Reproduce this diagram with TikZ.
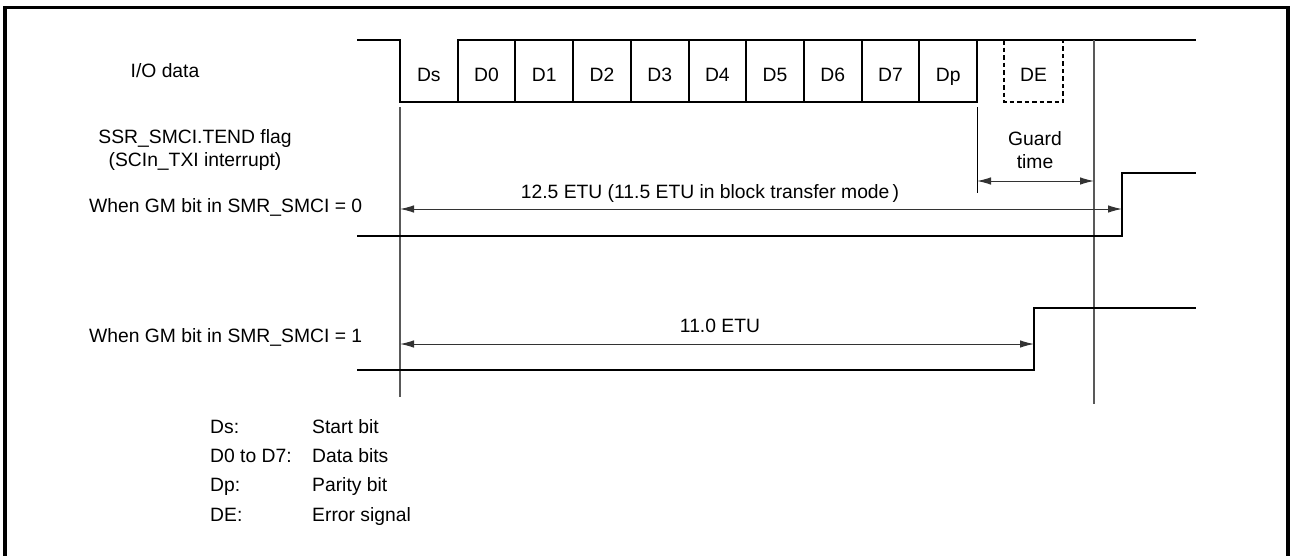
\documentclass[tikz,border=0pt]{standalone}
\usepackage{fontspec}
\setmainfont{Liberation Sans}
\usetikzlibrary{arrows.meta}
\begin{document}
\begin{tikzpicture}[x=1pt,y=-1pt,
  sig/.style={line width=2pt,line join=miter},
  guide/.style={line width=1.5pt,draw=black!65},
  dim/.style={line width=1pt,draw=black!80,{Latex[length=14pt,width=7.5pt]}-{Latex[length=14pt,width=7.5pt]}},
  lbl/.style={font=\fontsize{19.3pt}{23pt}\selectfont,inner sep=0pt,anchor=base},
  lbll/.style={lbl,anchor=base west},
  frame/.style={line width=3.5pt}]
\useasboundingbox (0,0) rectangle (1290,555);
% frame
\draw[frame] (5,570) -- (5,7.5) -- (1288,7.5) -- (1288,570);
% I/O data signal
\draw[sig] (357,40) -- (400,40) -- (400,102) -- (977,102) -- (977,40);
\draw[sig] (457,40) -- (1196,40);
\foreach \i in {1,...,9}{
  \draw[sig] ({400+57.7*\i},40) -- ({400+57.7*\i},102);
}
\draw[sig,dash pattern=on 4.5pt off 3pt] (1004,40) -- (1004,102) -- (1063,102) -- (1063,40);
% bit labels
\foreach \t [count=\i from 0] in {Ds,D0,D1,D2,D3,D4,D5,D6,D7,Dp}{
  \node[lbl] (b\i) at ({400+57.7*\i+28.85},81) {\t};
}
\node[lbl] (de) at (1033.5,81) {DE};
% guide lines
\draw[guide] (400,107) -- (400,397);
\draw[guide] (1094,40) -- (1094,404);
\draw[line width=1pt] (977,107) -- (977,193);
% TEND signals
\draw[sig] (357,236) -- (1122,236) -- (1122,173) -- (1196,173);
\draw[sig] (357,370) -- (1034,370) -- (1034,308) -- (1196,308);
% dimension coordinates
\coordinate (gA) at (977,181);
\coordinate (gB) at (1094,181);
\coordinate (aA) at (400,209);
\coordinate (aB) at (1122,209);
\coordinate (cA) at (400,344);
\coordinate (cB) at (1034,344);
\draw[dim] (gA) -- (gB);
\draw[dim] (aA) -- (aB);
\draw[dim] (cA) -- (cB);
% labels
\node[lbl] (io) at (165,77) {I/O data};
\node[lbl] (tend1) at (195,143) {SSR\_SMCI.TEND flag};
\node[lbl] (tend2) at (195,166) {(SCIn\_TXI interrupt)};
\node[lbll] (gm0) at (89,212) {When GM bit in SMR\_SMCI = 0};
\node[lbll] (gm1) at (89,342) {When GM bit in SMR\_SMCI = 1};
\node[lbl] (guard1) at (1035,145) {Guard};
\node[lbl] (guard2) at (1035,168) {time};
\node[lbl] (etu1) at (710,198) {12.5 ETU (11.5 ETU in block transfer mode\,)};
\node[lbl] (etu2) at (720,332) {11.0 ETU};
% legend
\node[lbll] (k1) at (210,433) {Ds:};
\node[lbll] (k2) at (210,462) {D0 to D7:};
\node[lbll] (k3) at (210,491) {Dp:};
\node[lbll] (k4) at (210,521) {DE:};
\node[lbll] (v1) at (312,433) {Start bit};
\node[lbll] (v2) at (312,462) {Data bits};
\node[lbll] (v3) at (312,491) {Parity bit};
\node[lbll] (v4) at (312,521) {Error signal};
\end{tikzpicture}
\end{document}
